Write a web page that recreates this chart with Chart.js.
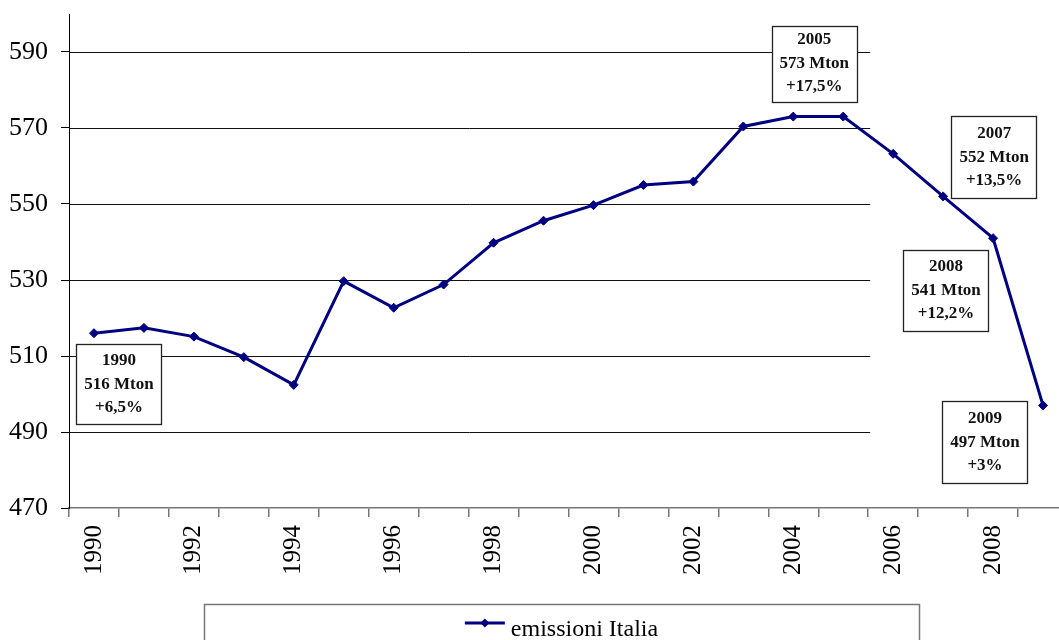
<!DOCTYPE html>
<html>
<head>
<meta charset="utf-8">
<script src="https://cdn.jsdelivr.net/npm/chart.js@4/dist/chart.umd.min.js"></script>
<style>
  html, body { margin: 0; padding: 0; background: #fff; }
  #wrap { width: 1059px; height: 640px; overflow: hidden; position: relative; }
  #c { position: absolute; left: 0; top: 0; }
</style>
</head>
<body>
<div id="wrap"><canvas id="c" width="1080" height="640"></canvas></div>
<script>
// Emissioni di gas serra in Italia, Mton CO2 eq.
const years = [1990, 1991, 1992, 1993, 1994, 1995, 1996, 1997, 1998, 1999,
               2000, 2001, 2002, 2003, 2004, 2005, 2006, 2007, 2008, 2009];
const emissions = [516, 517.4, 515.1, 509.7, 502.4, 529.7, 522.7, 528.8, 539.8, 545.6,
                   549.7, 555.0, 555.9, 570.4, 573, 573, 563.2, 552, 541, 497];
const seriesName = 'emissioni Italia';

// y axis range and tick values
const yMin = 470;
const yMax = 600;
const yTickValues = [470, 490, 510, 530, 550, 570, 590];

// boxed notes on selected years
const calloutYears = [1990, 2005, 2007, 2008, 2009];
const calloutChanges = ['+6,5%', '+17,5%', '+13,5%', '+12,2%', '+3%'];

// ---- styling / placement ----
const SERIF = '"Liberation Serif", "Times New Roman", serif';
const NAVY = '#000080';
const calloutOffsets = [[25, 51], [-29, -53], [51, -39], [-47, 52], [-58, 37]];
const calloutHeights = [80, 76, 82, 81, 82];
const gridEndYear = 2005;
const legendBox = { left: 204, right: 919, top: 604, bottom: 660 };

const partialGrid = {
  id: 'partialGrid',
  beforeDatasetsDraw(chart) {
    const { ctx, chartArea, scales: { x, y } } = chart;
    const xEnd = x.getPixelForValue(years.indexOf(gridEndYear) + 0.5) + 2;
    ctx.save();
    ctx.strokeStyle = '#111';
    ctx.lineWidth = 1;
    y.ticks.forEach(t => {
      if (t.value === y.min) return;
      const py = Math.round(y.getPixelForValue(t.value)) + 0.5;
      ctx.beginPath();
      ctx.moveTo(chartArea.left, py);
      ctx.lineTo(xEnd, py);
      ctx.stroke();
    });
    ctx.restore();
  }
};

const callouts = {
  id: 'callouts',
  afterDatasetsDraw(chart) {
    const { ctx } = chart;
    const meta = chart.getDatasetMeta(0);
    ctx.save();
    ctx.font = 'bold 17px ' + SERIF;
    ctx.textAlign = 'center';
    ctx.textBaseline = 'middle';
    calloutYears.forEach((yr, k) => {
      const i = years.indexOf(yr);
      const pt = meta.data[i];
      const [dx, dy] = calloutOffsets[k];
      const lines = [String(yr), emissions[i] + ' Mton', calloutChanges[k]];
      const w = Math.max(...lines.map(s => ctx.measureText(s).width)) + 16;
      const h = calloutHeights[k];
      const cx = pt.x + dx, cy = pt.y + dy;
      const bx = Math.round(cx - w / 2) + 0.5, by = Math.round(cy - h / 2) + 0.5;
      ctx.fillStyle = '#fff';
      ctx.fillRect(bx, by, Math.round(w), h);
      ctx.strokeStyle = '#222';
      ctx.lineWidth = 1.3;
      ctx.strokeRect(bx, by, Math.round(w), h);
      ctx.fillStyle = '#111';
      lines.forEach((s, j) => ctx.fillText(s, cx, cy + (j - 1) * 23.5));
    });
    ctx.restore();
  }
};

const boxedLegend = {
  id: 'boxedLegend',
  afterDraw(chart) {
    const { ctx } = chart;
    const b = legendBox;
    ctx.save();
    ctx.strokeStyle = '#777';
    ctx.lineWidth = 1.5;
    ctx.strokeRect(b.left + 0.5, b.top + 0.5, b.right - b.left, b.bottom - b.top);
    ctx.font = '24px ' + SERIF;
    const tw = ctx.measureText(seriesName).width;
    const sw = 40, gap = 6;
    const x0 = (b.left + b.right) / 2 - (sw + gap + tw) / 2;
    const ly = 623;
    ctx.strokeStyle = NAVY;
    ctx.lineWidth = 3;
    ctx.beginPath();
    ctx.moveTo(x0, ly);
    ctx.lineTo(x0 + sw, ly);
    ctx.stroke();
    const mx = x0 + sw / 2, r = 4.5;
    ctx.fillStyle = NAVY;
    ctx.beginPath();
    ctx.moveTo(mx, ly - r); ctx.lineTo(mx + r, ly); ctx.lineTo(mx, ly + r); ctx.lineTo(mx - r, ly);
    ctx.closePath();
    ctx.fill();
    ctx.fillStyle = '#000';
    ctx.textBaseline = 'alphabetic';
    ctx.textAlign = 'left';
    ctx.fillText(seriesName, x0 + sw + gap, 636);
    ctx.restore();
  }
};

new Chart(document.getElementById('c'), {
  type: 'line',
  data: {
    labels: years.map(String),
    datasets: [{
      label: seriesName,
      data: emissions,
      borderColor: NAVY,
      backgroundColor: NAVY,
      borderWidth: 3,
      pointStyle: 'rectRot',
      pointRadius: 4.5,
      pointBorderWidth: 1,
      tension: 0,
      clip: false
    }]
  },
  options: {
    responsive: false,
    animation: false,
    devicePixelRatio: 1,
    layout: { padding: { top: 14, right: 12, left: 0, bottom: 0 } },
    plugins: { legend: { display: false }, tooltip: { enabled: false } },
    scales: {
      x: {
        type: 'category',
        offset: true,
        grid: { display: true, drawOnChartArea: false, offset: true, tickLength: 9, color: '#777', lineWidth: 1.5 },
        border: { color: '#777', width: 1.5 },
        ticks: {
          autoSkip: false,
          maxRotation: 90,
          minRotation: 90,
          padding: 8,
          color: '#000',
          font: { family: SERIF, size: 25 },
          callback: (v, i) => (i % 2 === 0 ? years[i] : '')
        },
        afterFit: s => { s.height = 132; s.paddingLeft = 0; s.paddingRight = 0; }
      },
      y: {
        min: yMin,
        max: yMax,
        grid: { display: true, drawOnChartArea: false, tickLength: 8, color: '#000' },
        border: { color: '#000', width: 1 },
        ticks: {
          padding: 13,
          color: '#000',
          font: { family: SERIF, size: 26 }
        },
        afterBuildTicks: s => { s.ticks = yTickValues.map(v => ({ value: v })); },
        afterFit: s => { s.width = 69; s.paddingTop = 0; s.paddingBottom = 0; }
      }
    }
  },
  plugins: [partialGrid, callouts, boxedLegend]
});
</script>
</body>
</html>
